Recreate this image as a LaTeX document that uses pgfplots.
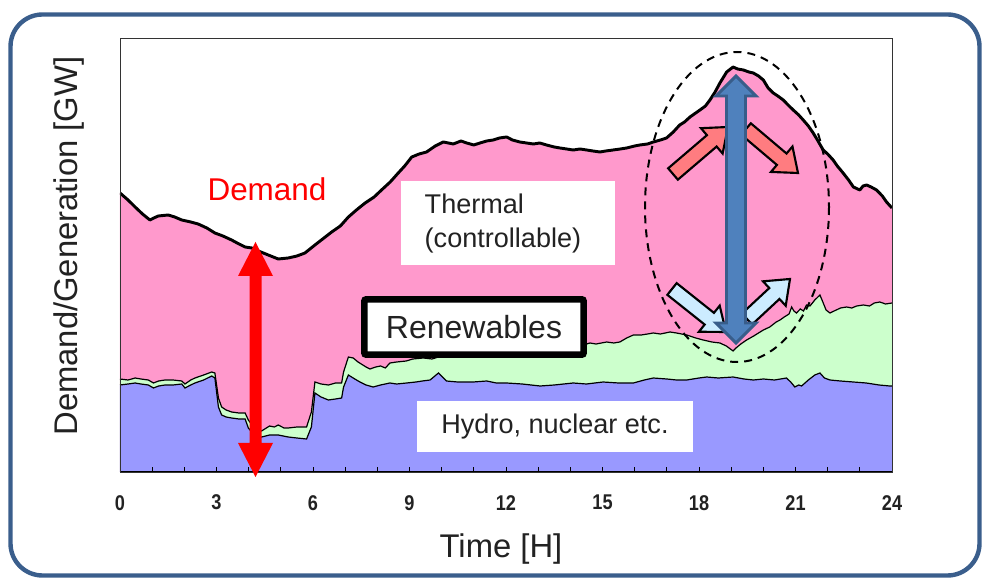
\documentclass[border=0pt]{standalone}
\usepackage{pgfplots}
\pgfplotsset{compat=1.18}
\usepackage{pgfplotstable}
\usetikzlibrary{calc}
\usepackage{fontspec}
\setmainfont{Liberation Sans}

\definecolor{thermalpink}{RGB}{255,153,204}
\definecolor{renewgreen}{RGB}{204,255,204}
\definecolor{hydroblue}{RGB}{153,153,255}
\definecolor{salmon}{RGB}{255,124,128}
\definecolor{paleblue}{RGB}{204,236,255}
\definecolor{arrowblue}{RGB}{79,129,189}
\definecolor{arrowedge}{RGB}{56,93,138}
\definecolor{framecol}{RGB}{58,94,140}
\definecolor{txt}{RGB}{34,34,34}

% total demand (upper edge of the thermal band)
\pgfplotstableread{
h     v
0     279
0.25  272
0.47  265
0.7   258
0.93  252
1.05  254
1.19  256
1.5   257
1.7   255
1.92  252
2.2   250
2.43  248
2.7   244
2.95  239
3.2   236
3.47  232
3.7   228
3.89  225
4.1   224
4.3   221
4.61  217
4.92  213
5.23  214
5.5   216
5.75  219
6.06  227
6.3   233
6.58  240
6.85  246
7.1   255
7.35  262
7.62  269
7.9   275
8.13  282
8.4   290
8.65  299
8.85  306
9.07  315
9.3   318
9.53  320
9.8   326
10.05 330
10.36 328
10.6  331
10.78 329
11.0  327
11.19 329
11.4  331
11.6  332
11.8  334
12.02 335
12.2  332
12.43 330
12.85 328
13.05 329
13.26 327
13.5  325
13.68 324
14.09 322
14.3  323
14.51 322
14.7  321
14.92 320
15.1  321
15.33 322
15.55 323
15.75 324
16.0  326
16.16 327
16.4  328
16.58 330
16.8  332
16.99 334
17.2  340
17.4  347
17.55 350
17.72 355
18.03 362
18.2  366
18.34 372
18.5  380
18.65 389
18.86 400
19.06 405
19.2  403
19.38 402
19.55 400
19.69 399
19.85 396
20.0  392
20.15 384
20.31 379
20.45 376
20.62 372
20.8  366
20.93 362
21.1  357
21.24 352
21.4  346
21.55 339
21.7  331
21.86 322
22.0  318
22.17 312
22.3  306
22.48 299
22.65 292
22.8  285
23.0  282
23.1  286
23.21 287
23.35 285
23.52 282
23.7  276
23.83 270
24    264
}\demand

% hydro + nuclear + renewables (upper edge of the renewables band)
\pgfplotstableread{
h     v
0     93
0.25  92
0.47  94
0.65  93
0.88  92
1.04  89
1.2   91
1.4   92
1.65  92
1.92  91
2.02  88
2.2   92
2.33  94
2.6   97
2.85  100
2.95  99
3.06  74
3.16  65
3.3   62
3.47  60
3.7   59
3.89  59
3.99  52
4.2   43
4.4   41
4.55  44
4.65  46
4.8   45
4.92  47
5.1   44
5.23  44
5.5   45
5.8   45
5.95  60
6.06  90
6.25  88
6.48  87
6.7   89
6.89  89
6.95  100
7.1   115
7.25  114
7.4   110
7.5   108
7.65  105
7.77  103
7.95  105
8.1   106
8.25  104
8.39  109
8.6   110
8.9   111
9.1   113
9.43  114
9.7   113
10.0  116
10.3  115
10.5  115
10.8  117
11.0  118
11.3  117
11.5  119
11.8  120
12.0  118
12.3  120
12.5  121
12.8  120
13.0  122
13.3  122
13.5  121
13.8  123
14.0  124
14.3  126
14.61 129
14.8  128
15.13 130
15.35 129
15.54 130
15.75 134
15.96 137
16.2  137
16.4  138
16.58 139
16.8  138
17.1  140
17.3  139
17.62 137
17.9  134
18.13 132
18.4  130
18.65 129
18.85 126
19.06 121
19.15 124
19.3  128
19.48 132
19.7  136
20.0  142
20.2  145
20.4  150
20.52 152
20.65 155
20.8  158
20.88 165
20.95 161
21.03 159
21.15 163
21.25 161
21.34 167
21.45 166
21.6  172
21.76 177
21.85 170
21.95 162
22.07 159
22.2  161
22.4  164
22.59 165
22.75 164
22.9  166
23.11 167
23.3  166
23.45 169
23.62 170
23.8  168
24    169
}\renew

% hydro, nuclear etc. (base band)
\pgfplotstableread{
h     v
0     87
0.25  88
0.47  89
0.65  88
0.88  87
1.04  84
1.2   86
1.4   87
1.65  87
1.92  88
2.02  84
2.2   87
2.33  89
2.6   92
2.85  96
2.95  94
3.06  65
3.16  57
3.3   55
3.47  54
3.7   53
3.89  53
3.99  44
4.2   36
4.4   35
4.65  37
4.92  37
5.23  35
5.5   34
5.8   33
5.95  45
6.06  79
6.25  75
6.48  72
6.7   73
6.89  74
6.95  85
7.1   97
7.3   93
7.46  90
7.65  87
7.87  85
8.1   87
8.39  89
8.6   88
8.91  89
9.2   90
9.4   91
9.64  92
9.9   99
10.15 91
10.5  90
10.98 90
11.4  91
11.7  89
12.02 89
12.5  88
13.06 86
13.5  87
14.09 89
14.5  88
15.02 90
15.5  89
15.96 89
16.3  92
16.58 94
17.0  93
17.3  92
17.62 92
18.0  94
18.24 95
18.6  94
19.06 95
19.4  93
19.69 92
20.0  93
20.35 92
20.72 94
20.85 90
20.98 85
21.1  87
21.19 86
21.4  92
21.6  97
21.76 99
21.9  94
22.07 92
22.4  91
22.8  90
23.2  89
23.6  87
23.93 86
24    86
}\hydro

% block arrow: tail #1, tip #2, shaft half-width #3, head half-width #4, head length #5, style #6
\newcommand{\blockarrow}[6]{%
  \coordinate (bA) at (#1);
  \coordinate (bB) at (#2);
  \coordinate (bH) at ($(bB)!#5!(bA)$);
  \draw[#6] ($(bA)!#3!90:(bB)$) -- ($(bH)!#3!90:(bB)$) -- ($(bH)!#4!90:(bB)$)
    -- (bB) -- ($(bH)!#4!-90:(bB)$) -- ($(bH)!#3!-90:(bB)$) -- ($(bA)!#3!-90:(bB)$) -- cycle;
}

\begin{document}
\begin{tikzpicture}
\path[use as bounding box] (-90pt,-79.5pt) rectangle (649.5pt,354pt);

\begin{axis}[
  at={(0,0)}, anchor=south west,
  scale only axis, width=579pt, height=325.5pt,
  xmin=0, xmax=24, ymin=0, ymax=434,
  xtick={0,3,...,24}, minor x tick num=2,
  ytick=\empty,
  xtick pos=left, tick align=inside,
  major tick length=3.8pt, minor tick length=3.8pt,
  tick style={black, line width=0.6pt},
  axis line style={black!80, line width=0.6pt},
  axis on top,
  /pgf/number format/assume math mode=true,
  xticklabel={\scalebox{0.85}[1]{\pgfmathprintnumber{\tick}}},
  xticklabel style={anchor=center, yshift=-23pt, font=\fontsize{16}{18}\selectfont\bfseries, text=txt},
  clip=true,
]
\addplot[draw=none, fill=thermalpink] table[x=h, y=v] {\demand} \closedcycle;
\addplot[draw=none, fill=renewgreen] table[x=h, y=v] {\renew} \closedcycle;
\addplot[draw=none, fill=hydroblue] table[x=h, y=v] {\hydro} \closedcycle;
\addplot[black, line width=0.9pt] table[x=h, y=v] {\renew};
\addplot[black, line width=0.9pt] table[x=h, y=v] {\hydro};
\addplot[black, line width=2.2pt, line join=round] table[x=h, y=v] {\demand};
\draw[black, line width=1.3pt] (rel axis cs:0,0) -- (rel axis cs:1,0);
\end{axis}

% annotations, in a frame where one unit is one pixel of the 986 x 578 layout
\begin{scope}[x=0.75pt, y=-0.75pt, shift={(-90pt,354pt)}]
  % outer frame
  \draw[framecol, line width=3.3pt, rounded corners=24pt] (10.5,14.5) rectangle (979.5,575.5);

  % axis titles
  \node[text=txt, font=\fontsize{24.6}{28}\selectfont] at (501,549) {Time [H]};
  \node[text=txt, font=\fontsize{24.6}{28}\selectfont, rotate=90] at (69,246) {Demand/Generation [GW]};

  % demand swing at night
  \node[text=red, font=\fontsize{23.6}{28}\selectfont] at (267,189) {Demand};
  \fill[red] (255.5,242) -- (273,276) -- (261.5,276) -- (261.5,443) -- (273,443) -- (255.5,477)
    -- (238,443) -- (249.5,443) -- (249.5,276) -- (238,276) -- cycle;

  % label boxes
  \fill[white] (401,181) rectangle (615,265);
  \node[anchor=west, align=left, text=txt, font=\fontsize{20.3}{25}\selectfont] at (420,223.5)
    {Thermal\\(controllable)};
  \draw[black, line width=4.9pt, fill=white, rounded corners=1.5pt] (364.3,299.3) rectangle (583.7,354.7);
  \node[text=txt, font=\fontsize{24}{28}\selectfont] at (474,327) {Renewables};
  \fill[white] (417,401) rectangle (693,452);
  \node[text=txt, font=\fontsize{20.3}{24}\selectfont] at (555,427) {Hydro, nuclear etc.};

  % evening peak
  \draw[black, line width=1.5pt, dash pattern=on 6pt off 4.5pt] (737,207) ellipse [x radius=92, y radius=155];
  \blockarrow{673,174}{728,127}{5.6pt}{12.5pt}{16pt}{fill=salmon, draw=black, line width=1.6pt, line join=miter}
  \blockarrow{746,129}{798,173}{5.6pt}{12.5pt}{16pt}{fill=salmon, draw=black, line width=1.6pt, line join=miter}
  \blockarrow{672,289}{726,332}{5.6pt}{12.5pt}{16pt}{fill=paleblue, draw=black, line width=1.6pt, line join=miter}
  \blockarrow{747,319}{790,279}{5.6pt}{12.5pt}{16pt}{fill=paleblue, draw=black, line width=1.6pt, line join=miter}
  \draw[fill=arrowblue, draw=arrowedge, line width=2.2pt, line join=miter]
    (736,76) -- (756,96) -- (745.5,96) -- (745.5,323) -- (756,323) -- (736,343)
    -- (716,323) -- (726.5,323) -- (726.5,96) -- (716,96) -- cycle;
\end{scope}
\end{tikzpicture}
\end{document}
